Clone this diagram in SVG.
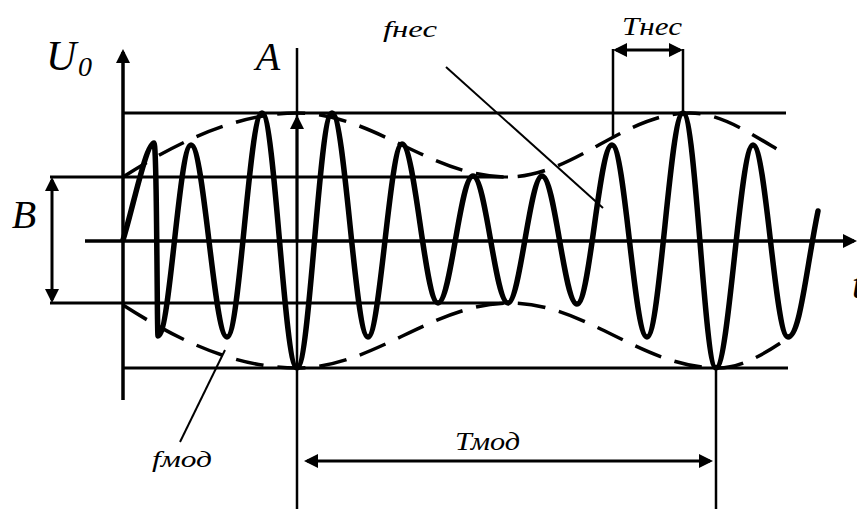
<svg xmlns="http://www.w3.org/2000/svg" width="857" height="509" viewBox="0 0 857 509">
  <style>
    .axis { stroke: #000; stroke-width: 3.5; fill: none; }
    .guide { stroke: #000; stroke-width: 3; fill: none; }
    .thin { stroke: #000; stroke-width: 2.5; fill: none; }
    .leader { stroke: #000; stroke-width: 2; fill: none; }
    .signal { stroke: #000; stroke-width: 5.5; fill: none; stroke-linejoin: round; stroke-linecap: round; }
    .env { stroke: #000; stroke-width: 3.5; fill: none; stroke-dasharray: 28 14; }
  </style>
  <defs>
    <marker id="arr" viewBox="0 0 14 14" markerWidth="14" markerHeight="14" refX="11" refY="7" orient="auto-start-reverse" markerUnits="userSpaceOnUse">
      <path d="M0,0 L14,7 L0,14 z" fill="#000"/>
    </marker>
  </defs>

  <g id="axes">
    <line class="axis" x1="123" y1="400" x2="123" y2="52" marker-end="url(#arr)"/>
    <line class="axis" x1="85" y1="241" x2="854" y2="241" marker-end="url(#arr)"/>
  </g>

  <g id="guides">
    <line class="guide" x1="123" y1="113" x2="786" y2="113"/>
    <line class="guide" x1="123" y1="368" x2="788" y2="368"/>
    <line class="guide" x1="50" y1="177" x2="508" y2="177"/>
    <line class="guide" x1="50" y1="303" x2="508" y2="303"/>
    <line class="thin" x1="297" y1="48" x2="297" y2="509"/>
    <line class="thin" x1="613" y1="49" x2="613" y2="137"/>
    <line class="thin" x1="683" y1="49" x2="683" y2="113"/>
    <line class="thin" x1="716" y1="368" x2="716" y2="509"/>
  </g>

  <g id="connectors">
    <line class="guide" x1="52" y1="180" x2="52" y2="300" marker-start="url(#arr)" marker-end="url(#arr)"/>
    <line class="guide" x1="297" y1="241" x2="297" y2="118" marker-end="url(#arr)"/>
    <line class="guide" x1="616" y1="50" x2="680" y2="50" marker-start="url(#arr)" marker-end="url(#arr)"/>
    <line class="guide" x1="307" y1="461" x2="710" y2="461" marker-start="url(#arr)" marker-end="url(#arr)"/>
    <line class="leader" x1="446" y1="67" x2="603" y2="208"/>
    <line class="leader" x1="180" y1="442" x2="225" y2="350"/>
  </g>

  <g id="envelope">
    <path class="env" d="M123,177 C165,150 230,113 297,113 C373,113 431,177 507,177 C574,177 624,113 690,113 C720,113 750,133 780,151"/>
    <path class="env" d="M123,305 C170,335 230,368 297,368 C374,368 433,303 510,303 C586,303 642,368 718,368 C740,368 763,355 785,340"/>
  </g>

  <g id="signal">
    <path class="signal" d="M123,240 C133,208 146,143 154,143 C157,143 157,336 158,336 C170,336 179,145 191,145 C204,145 214,337 227,337 C240,337 249,113 262,113 C275,113 284,368 297,368 C310,368 319,113 332,113 C345,113 355,337 368,337 C380,337 390,144 402,144 C415,144 425,303 438,303 C451,303 460,176 473,176 C486,176 495,303 508,303 C520,303 530,176 542,176 C555,176 564,304 577,304 C590,304 599,145 612,145 C625,145 634,337 647,337 C660,337 670,113 683,113 C696,113 704,368 716,368 C729,368 740,145 753,145 C766,145 775,337 788,337 C800,337 806,270 818,211"/>
  </g>

  <g id="labels" font-family="Liberation Serif, serif" font-style="italic" fill="#000">
    <text x="46" y="70" font-size="42">U</text>
    <text x="78" y="76" font-size="28">0</text>
    <text x="268" y="70" font-size="40" text-anchor="middle">A</text>
    <text x="24" y="228" font-size="40" text-anchor="middle">B</text>
    <text x="852" y="298" font-size="40">t</text>
    <text x="383" y="37" font-size="24" textLength="54" lengthAdjust="spacingAndGlyphs">fнес</text>
    <text x="622" y="35" font-size="25" textLength="60" lengthAdjust="spacingAndGlyphs">Тнес</text>
    <text x="152" y="467" font-size="24" textLength="60" lengthAdjust="spacingAndGlyphs">fмод</text>
    <text x="455" y="450" font-size="25" textLength="65" lengthAdjust="spacingAndGlyphs">Тмод</text>
  </g>
</svg>
